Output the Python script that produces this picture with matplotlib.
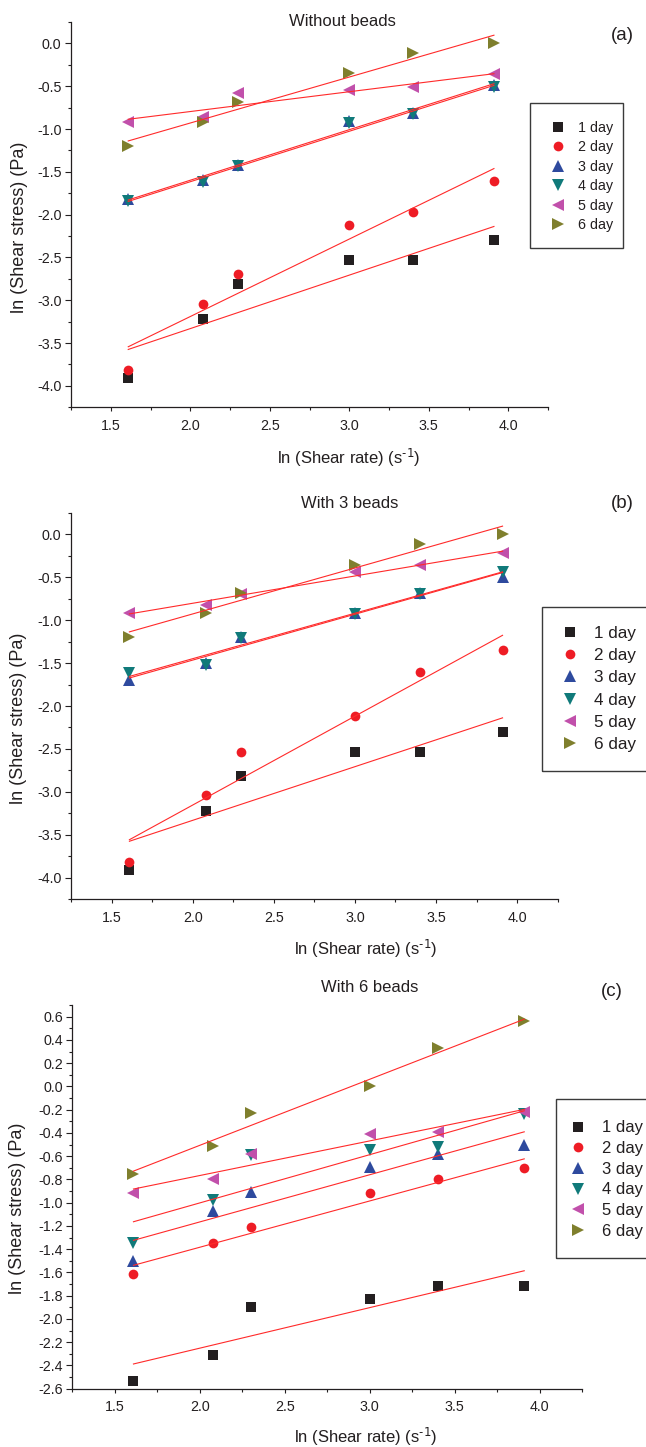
import numpy as np
import matplotlib
matplotlib.use('Agg')
import matplotlib.pyplot as plt
from matplotlib.ticker import MultipleLocator
from matplotlib.patches import Rectangle

plt.rcParams['font.family'] = ['Liberation Sans', 'DejaVu Sans']
plt.rcParams['axes.unicode_minus'] = False
plt.rcParams['mathtext.default'] = 'regular'

W, H = 646, 1447

# ln(shear rate) for the six rates used in every run
shear_rate = [1.61, 2.08, 2.30, 3.00, 3.40, 3.91]
days = ['1 day', '2 day', '3 day', '4 day', '5 day', '6 day']

# ln(shear stress), one row per storage day
stress_no_beads = [
    [-3.91, -3.22, -2.81, -2.53, -2.53, -2.30],
    [-3.82, -3.04, -2.69, -2.12, -1.97, -1.61],
    [-1.82, -1.60, -1.42, -0.91, -0.81, -0.49],
    [-1.84, -1.62, -1.43, -0.93, -0.83, -0.51],
    [-0.92, -0.86, -0.58, -0.55, -0.51, -0.36],
    [-1.20, -0.92, -0.69, -0.35, -0.11, 0.00],
]
stress_3_beads = [
    [-3.91, -3.22, -2.81, -2.53, -2.53, -2.30],
    [-3.82, -3.04, -2.53, -2.12, -1.61, -1.35],
    [-1.70, -1.50, -1.20, -0.92, -0.68, -0.50],
    [-1.62, -1.52, -1.21, -0.93, -0.70, -0.44],
    [-0.92, -0.82, -0.70, -0.44, -0.36, -0.22],
    [-1.20, -0.92, -0.68, -0.36, -0.11, 0.00],
]
stress_6_beads = [
    [-2.53, -2.31, -1.90, -1.83, -1.72, -1.72],
    [-1.61, -1.35, -1.21, -0.92, -0.80, -0.70],
    [-1.50, -1.07, -0.91, -0.69, -0.58, -0.50],
    [-1.35, -0.98, -0.59, -0.55, -0.52, -0.24],
    [-0.92, -0.80, -0.58, -0.41, -0.39, -0.22],
    [-0.75, -0.51, -0.23, 0.00, 0.33, 0.56],
]

markers = ['s', 'o', '^', 'v', '<', '>']
colors = ['#231f20', '#ee1c25', '#2e4a9e', '#107a7a', '#c150ab', '#7f7f2d']
msizes = [6.5, 7.0, 8.0, 8.0, 8.0, 8.0]
fit_red = '#ff2a2a'
ink = '#231f20'


def px(x, y):
    # pixel position measured from the top-left corner -> figure fraction
    return x / W, 1 - y / H


def draw_panel(ax, stress, ylim, major, minor):
    handles = []
    for vals, m, c, ms in zip(stress, markers, colors, msizes):
        h, = ax.plot(shear_rate, vals, ls='none', marker=m, color=c,
                     ms=ms, mew=0, zorder=2)
        handles.append(h)
    # least-squares fit for each day
    xs = np.array([shear_rate[0], shear_rate[-1]])
    for vals in stress:
        k, b = np.polyfit(shear_rate, vals, 1)
        ax.plot(xs, k * xs + b, color=fit_red, lw=0.8, zorder=3)

    ax.set_xlim(1.25, 4.25)
    ax.set_ylim(*ylim)
    ax.xaxis.set_major_locator(MultipleLocator(0.5))
    ax.xaxis.set_minor_locator(MultipleLocator(0.25))
    ax.yaxis.set_major_locator(MultipleLocator(major))
    ax.yaxis.set_minor_locator(MultipleLocator(minor))
    ax.xaxis.set_major_formatter('{x:.1f}')
    ax.yaxis.set_major_formatter('{x:.1f}')
    for s in ['top', 'right']:
        ax.spines[s].set_visible(False)
    for s in ['left', 'bottom']:
        ax.spines[s].set_linewidth(0.9)
        ax.spines[s].set_color(ink)
    ax.tick_params(which='both', direction='out', width=0.8, color=ink,
                   labelsize=10.3, labelcolor=ink)
    ax.tick_params(axis='y', which='major', length=4.3, pad=2.5)
    ax.tick_params(axis='x', which='major', length=3.1, pad=5)
    ax.tick_params(which='minor', length=2.4)
    return handles


def add_legend(ax, handles, fs, spacing, marker_x, text_x, rows_y, box):
    fpx = fs * 100 / 72
    left = marker_x - fpx / 2
    leg = ax.legend(handles, days, loc='center left', frameon=False,
                    bbox_to_anchor=px(left, rows_y), bbox_transform=fig.transFigure,
                    borderpad=0, borderaxespad=0, handlelength=1.0,
                    handletextpad=(text_x - left - fpx) / fpx,
                    labelspacing=spacing, fontsize=fs, markerscale=1.0)
    for t in leg.get_texts():
        t.set_color(ink)
    x0, y0, x1, y1 = box
    fig.patches.append(Rectangle(px(x0, y1), (x1 - x0) / W, (y1 - y0) / H,
                                 transform=fig.transFigure, fill=False,
                                 edgecolor='#3a3a3a', lw=1.0))


fig = plt.figure(figsize=(W / 100, H / 100), dpi=100)

ax_a = fig.add_axes([71 / W, 1 - 407.3 / H, 477 / W, 385.3 / H])
ax_b = fig.add_axes([71 / W, 1 - 899.3 / H, 486.7 / W, 386.6 / H])
ax_c = fig.add_axes([72.3 / W, 1 - 1388.7 / H, 509.7 / W, 383.7 / H])

h_a = draw_panel(ax_a, stress_no_beads, (-4.25, 0.25), 0.5, 0.25)
h_b = draw_panel(ax_b, stress_3_beads, (-4.25, 0.25), 0.5, 0.25)
h_c = draw_panel(ax_c, stress_6_beads, (-2.6, 0.7), 0.2, 0.1)

add_legend(ax_a, h_a, 10.3, 0.38, 558, 578, 176.5, (530, 103, 623, 248))
add_legend(ax_b, h_b, 12.3, 0.42, 570, 594, 689, (541.7, 607, 665, 771))
add_legend(ax_c, h_c, 12.0, 0.34, 578, 602, 1179.5, (556, 1099, 665, 1258))

titles = ['Without beads', 'With 3 beads', 'With 6 beads']
title_pos = [(342, 21), (350, 503), (370, 988)]
letters = ['(a)', '(b)', '(c)']
letter_pos = [(622, 35), (622, 503), (612, 991)]
ylabel_pos = [(20, 227), (18.5, 718), (17.5, 1208)]
xlabel_pos = [(349, 458), (366, 949), (366, 1437)]

for i in range(3):
    fig.text(*px(*title_pos[i]), titles[i], ha='center', va='center',
             fontsize=12, color=ink)
    fig.text(*px(*letter_pos[i]), letters[i], ha='center', va='center',
             fontsize=13.5, color=ink)
    fig.text(*px(*ylabel_pos[i]), 'ln (Shear stress) (Pa)', rotation=90,
             ha='center', va='center', fontsize=13, color=ink)
    fig.text(*px(*xlabel_pos[i]), r'ln (Shear rate) (s$^{\text{-1}}$)',
             ha='center', va='center', fontsize=12, color=ink)

fig.savefig('out.png', dpi=100)
